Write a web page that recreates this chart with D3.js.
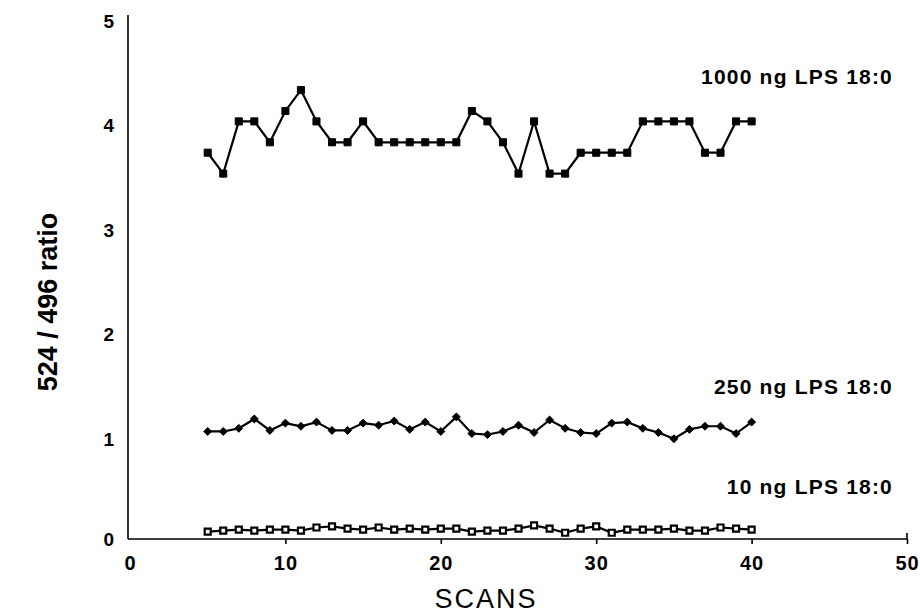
<!DOCTYPE html>
<html>
<head>
<meta charset="utf-8">
<script src="https://cdn.jsdelivr.net/npm/d3@7"></script>
<style>
    body { margin: 0; background: #fff; }
    svg text { font-family: 'Liberation Sans', Arial, Helvetica, sans-serif; fill: #000; }
</style>
</head>
<body>
<div id="chart"></div>
<script>
var scans = [ 5, 6, 7, 8, 9, 10, 11, 12, 13, 14, 15, 16, 17, 18, 19, 20, 21, 22,
              23, 24, 25, 26, 27, 28, 29, 30, 31, 32, 33, 34, 35, 36, 37, 38, 39, 40 ];

var ratio1000 = [ 3.7, 3.5, 4.0, 4.0, 3.8, 4.1, 4.3, 4.0, 3.8, 3.8, 4.0, 3.8, 3.8, 3.8, 3.8, 3.8, 3.8, 4.1,
                  4.0, 3.8, 3.5, 4.0, 3.5, 3.5, 3.7, 3.7, 3.7, 3.7, 4.0, 4.0, 4.0, 4.0, 3.7, 3.7, 4.0, 4.0 ];

var ratio250 = [ 1.03, 1.03, 1.06, 1.15, 1.04, 1.11, 1.08, 1.12, 1.04, 1.04, 1.11, 1.09, 1.13, 1.05, 1.12, 1.03, 1.17, 1.01,
                 1.00, 1.03, 1.09, 1.02, 1.14, 1.06, 1.02, 1.01, 1.11, 1.12, 1.06, 1.02, 0.96, 1.05, 1.08, 1.08, 1.01, 1.12 ];

var ratio10 = [ 0.07, 0.08, 0.09, 0.08, 0.09, 0.09, 0.08, 0.11, 0.12, 0.10, 0.09, 0.11, 0.09, 0.10, 0.09, 0.10, 0.10, 0.07,
                0.08, 0.08, 0.10, 0.13, 0.10, 0.06, 0.10, 0.12, 0.06, 0.09, 0.09, 0.09, 0.10, 0.08, 0.08, 0.11, 0.10, 0.09 ];

var seriesLabels = [ '1000 ng LPS 18:0', '250 ng LPS 18:0', '10 ng LPS 18:0' ];
var xTicks = [ 0, 10, 20, 30, 40, 50 ];
var yTicks = [ 0, 1, 2, 3, 4, 5 ];

function chart(target) {
    var width = 920, height = 615;

    var x = d3.scaleLinear().domain([ 0, 50 ]).range([ 130, 907 ]);
    var y = d3.scaleLinear().domain([ 0, 5 ]).range([ 539, 17 ]);

    var svg = d3.select(target).append('svg')
                .attr('width', width).attr('height', height);

    var xAxis = svg.append('g')
                   .attr('transform', 'translate(0,' + y(0) + ')')
                   .call(d3.axisBottom(x).tickValues(xTicks).tickSize(5).tickPadding(12)
                                         .tickFormat(d3.format('d')));
    xAxis.select('.domain').attr('d', 'M' + (x(0) - 2) + ',0H' + x(50) + 'V-6');
    xAxis.selectAll('.tick').filter(function(d) { return d === 0; }).select('line').remove();
    xAxis.selectAll('line, path').attr('stroke', '#000').attr('stroke-width', 1.6);
    xAxis.selectAll('text').attr('font-size', 20).attr('font-weight', 'bold')
         .attr('letter-spacing', 1);

    var yAxis = svg.append('g')
                   .attr('transform', 'translate(' + (x(0) - 2) + ',0)')
                   .call(d3.axisLeft(y).tickValues(yTicks).tickSize(0).tickPadding(14)
                                       .tickFormat(d3.format('d')));
    yAxis.select('.domain').attr('d', 'M0,' + y(0) + 'V' + (y(5) - 2));
    yAxis.selectAll('path').attr('stroke', '#000').attr('stroke-width', 1.6);
    yAxis.selectAll('text').attr('font-size', 19).attr('font-weight', 'bold')
         .attr('dy', function(d) { return d === 0 ? '0.32em' : '0.55em'; });

    svg.append('text')
       .attr('transform', 'translate(57,302) rotate(-90)')
       .attr('text-anchor', 'middle')
       .attr('font-size', 27).attr('font-weight', 'bold')
       .text('524 / 496 ratio');

    svg.append('text')
       .attr('x', 486).attr('y', 608)
       .attr('text-anchor', 'middle')
       .attr('font-size', 27).attr('letter-spacing', 2)
       .text('SCANS');

    var line = d3.line()
                 .x(function(d, i) { return x(scans[i]); })
                 .y(function(d) { return y(d); });

    var series = [ ratio1000, ratio250, ratio10 ];
    var markers = [ d3.symbolSquare, d3.symbolDiamond2, d3.symbolSquare ];
    var markerSizes = [ 50, 40, 36 ];
    var labelY = [ 84, 394, 494 ];

    series.forEach(function(values, s) {
        var g = svg.append('g');

        g.append('path')
         .datum(values)
         .attr('fill', 'none')
         .attr('stroke', '#000')
         .attr('stroke-width', 2.2)
         .attr('d', line);

        g.selectAll('path.marker').data(values).enter()
         .append('path').attr('class', 'marker')
         .attr('transform', function(d, i) { return 'translate(' + x(scans[i]) + ',' + y(d) + ')'; })
         .attr('d', d3.symbol().type(markers[s]).size(markerSizes[s]))
         .attr('fill', s === 2 ? '#fff' : '#000')
         .attr('stroke', '#000')
         .attr('stroke-width', s === 2 ? 2.2 : 1);

        g.append('text')
         .attr('x', 893).attr('y', labelY[s])
         .attr('text-anchor', 'end')
         .attr('font-size', 21).attr('font-weight', 'bold')
         .attr('letter-spacing', 1.2)
         .text(seriesLabels[s]);
    });
}

chart('#chart');
</script>
</body>
</html>
